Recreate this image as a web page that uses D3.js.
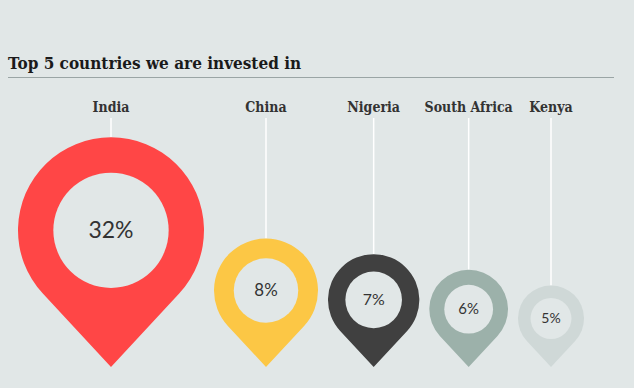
<!DOCTYPE html>
<html lang="en">
<head>
  <meta charset="UTF-8">
  <style>
    body, html { margin: 0; padding: 0; background: #e1e7e7; }
    svg { display: block; }
    .title { font-family: "DejaVu Serif Condensed", "DejaVu Serif", serif; font-stretch: condensed; font-weight: bold; font-size: 17px; fill: #1a1a1a; }
    .country { font-family: "DejaVu Serif Condensed", "DejaVu Serif", serif; font-stretch: condensed; font-weight: bold; font-size: 14px; fill: #333; }
    .pct { font-family: Lato, "Open Sans", sans-serif; fill: #333; }
  </style>
</head>
<body>
  <svg id="svg" width="634" height="388"></svg>
  <script src="https://d3js.org/d3.v7.min.js"></script>
  <script>
    const countries = ['India', 'China', 'Nigeria', 'South Africa', 'Kenya']
    const shares = [32, 8, 7, 6, 5]
    const colors = ['#ff4646', '#fcc745', '#404040', '#9cb1aa', '#cfd8d7']

    const width = 634
    const height = 388
    const baseY = 367      // where the pin tips sit
    const labelY = 112
    const gap = 10

    const svg = d3.select('#svg')
    svg.append('rect').attr('width', width).attr('height', height).attr('fill', '#e1e7e7')

    // title + rule
    svg.append('text').attr('class', 'title').attr('x', 8).attr('y', 69)
      .text('Top 5 countries we are invested in')
    svg.append('line')
      .attr('x1', 8).attr('x2', 614).attr('y1', 77.5).attr('y2', 77.5)
      .attr('stroke', '#9aa5a5').attr('stroke-width', 1)

    // pin size from the share
    const rScale = d3.scaleLinear().domain([5, 8, 32]).range([33, 52, 93])
    const fontScale = d3.scaleLinear().domain([33, 93]).range([14, 23])

    // pack pins left to right
    const pins = []
    let cursor = 18
    countries.forEach((c, i) => {
      const r = rScale(shares[i])
      const cx = cursor + r
      cursor = cx + r + gap
      pins.push({ name: c, value: shares[i], color: colors[i], r: r, cx: cx, cy: baseY - 1.47 * r })
    })

    function pinPath(d) {
      const dist = baseY - d.cy
      const a = Math.acos(d.r / dist)
      const lx = d.cx - d.r * Math.sin(a), ly = d.cy + d.r * Math.cos(a)
      const rx = d.cx + d.r * Math.sin(a)
      return `M${d.cx},${baseY} L${lx},${ly} A${d.r},${d.r} 0 1 1 ${rx},${ly} Z`
    }

    const g = svg.append('g')

    // connector lines
    g.selectAll('line.stem')
      .data(pins)
      .enter()
      .append('line')
      .attr('class', 'stem')
      .attr('x1', d => d.cx).attr('x2', d => d.cx)
      .attr('y1', labelY + 6).attr('y2', d => d.cy - d.r)
      .attr('stroke', '#fff').attr('stroke-width', 1.5)

    g.selectAll('text.country')
      .data(pins)
      .enter()
      .append('text')
      .attr('class', 'country')
      .attr('x', d => d.cx).attr('y', labelY)
      .attr('text-anchor', 'middle')
      .text(d => d.name)

    g.selectAll('path.pin')
      .data(pins)
      .enter()
      .append('path')
      .attr('class', 'pin')
      .attr('d', pinPath)
      .attr('fill', d => d.color)

    g.selectAll('circle.hole')
      .data(pins)
      .enter()
      .append('circle')
      .attr('class', 'hole')
      .attr('cx', d => d.cx).attr('cy', d => d.cy)
      .attr('r', d => d.r * 0.62)
      .attr('fill', '#e1e7e7')

    g.selectAll('text.pct')
      .data(pins)
      .enter()
      .append('text')
      .attr('class', 'pct')
      .attr('x', d => d.cx).attr('y', d => d.cy)
      .attr('dy', '0.35em')
      .attr('text-anchor', 'middle')
      .attr('font-size', d => fontScale(d.r))
      .text(d => d.value + '%')
  </script>
</body>
</html>
